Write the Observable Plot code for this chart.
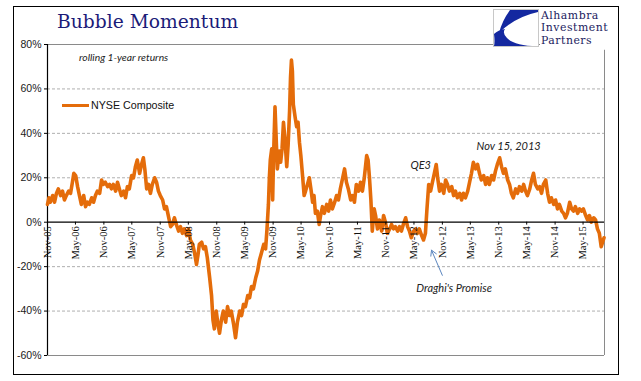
<!DOCTYPE html>
<html>
<head>
<meta charset="utf-8">
<script src="https://cdn.jsdelivr.net/npm/d3@7"></script>
<script src="https://cdn.jsdelivr.net/npm/@observablehq/plot@0.6"></script>
<style>
  html, body { margin: 0; padding: 0; background: #fff; }
  #wrap { position: relative; width: 641px; height: 381px; overflow: hidden; background: #fff; }
  #chart { position: absolute; left: 0; top: 0; }
  .abs { position: absolute; white-space: nowrap; }
</style>
</head>
<body>
<div id="wrap">
  <div id="chart"></div>
</div>
<script>
// ---- Data (months since 1 Nov 2005, rolling 1-year return in %) ----
const seriesName = "NYSE Composite";
const months = [
  0,0.3,0.6,1.1,1.5,1.9,2.3,2.8,3.2,3.6,4.0,4.5,4.9,5.3,5.6,6.0,6.4,6.8,7.2,7.7,8.1,8.5,8.9,9.4,9.8,10.2,10.6,11.1,11.5,11.9,12.3,12.8,13.2,13.6,14.0,14.5,14.9,15.3,15.7,16.2,16.6,17.0,17.4,17.9,18.3,18.7,19.1,19.6,20.0,20.4,20.7,
  21.1,21.5,21.9,22.3,22.8,23.2,23.6,24.0,24.5,24.9,25.3,25.7,26.2,26.6,27.0,27.4,27.9,28.3,28.7,29.1,29.6,30.0,30.4,30.9,31.3,31.7,32.0,32.3,32.8,33.2,33.6,34.0,34.5,34.9,35.2,35.5,35.9,36.2,36.6,37.0,37.4,37.9,38.3,38.7,39.1,39.6,40.0,40.4,40.9,41.3,41.7,42.1,42.6,43.0,43.4,43.8,44.3,44.7,45.1,45.5,46.0,46.4,
  46.7,47.0,47.2,47.4,47.7,47.9,48.1,48.4,48.7,48.9,49.3,49.6,49.9,50.2,50.5,50.9,51.2,51.5,51.7,51.9,52.1,52.3,52.7,53.0,53.3,53.6,53.9,54.3,54.6,54.9,55.3,55.7,56.1,56.4,56.7,57.0,57.4,57.8,58.1,58.5,58.9,59.4,59.8,
  60.2,60.6,61.1,61.5,61.9,62.3,62.8,63.2,63.6,64.0,64.5,64.9,65.3,65.7,66.2,66.6,67.0,67.4,67.9,68.2,68.5,68.8,69.1,69.5,69.8,70.2,70.6,71.1,71.5,71.9,72.3,72.8,73.2,73.6,74.0,74.5,74.9,75.3,75.7,76.2,76.6,77.0,77.4,77.9,78.3,78.7,79.1,79.6,80.0,80.4,
  80.7,81.1,81.5,81.9,82.3,82.7,83.0,83.4,83.8,84.3,84.7,85.1,85.5,86.0,86.4,86.8,87.2,87.7,88.1,88.5,88.9,89.4,89.8,90.2,90.6,91.1,91.5,91.9,92.3,92.8,93.2,93.6,94.0,94.5,94.9,95.3,95.7,96.2,96.6,97.0,97.4,97.9,98.3,98.7,99.1,99.6,100.0,100.4,100.9,101.3,101.7,102.1,102.6,103.0,103.4,103.8,104.3,104.7,105.1,105.5,106.0,106.4,106.8,107.2,107.7,108.1,108.5,108.9,109.4,109.8,110.2,110.6,111.1,111.5,111.9,112.3,112.8,113.2,113.6,114.0,114.5,114.9,115.3,115.7,116.2,116.6,117.0,117.4,117.8,118.1,118.4
];
const returns = [
  8,11,9,12,9,13,15,12,14,10,12,14,13,18,22,21,16,12,8,12,7,9,8,11,9,12,14,13,19,17,18,16,17,15,17,14,18,15,12,14,11,16,15,21,20,25,28,22,26,29,24,
  15,17,13,17,20,18,14,12,10,6,7,3,-2,-1,2,-1,-4,-2,-5,-3,-6,-3,-8,-10,-14,-19,-15,-10,-9,-12,-11,-16,-25,-33,-44,-48,-40,-45,-50,-44,-40,-45,-38,-42,-40,-46,-52,-45,-40,-42,-37,-38,-33,-34,-29,-30,-25,-22,-17,-14,-10,-12,
  -3,8,20,28,33,10,30,52,35,24,32,27,33,45,38,25,35,50,65,73,68,53,47,43,45,36,30,20,12,14,17,20,14,9,12,4,5,-1,3,7,4,8,5,
  10,6,9,12,10,15,20,24,18,15,10,12,9,17,14,18,14,20,30,28,20,10,-4,6,3,-3,1,-4,3,0,-5,-3,-1,-3,-2,-4,-2,-4,-1,2,-2,-4,-7,-4,-3,-5,-3,-6,-8,-5,
  5,17,14,18,22,26,20,14,17,13,19,17,14,16,12,14,11,13,10,13,11,14,18,22,27,24,26,22,19,21,17,20,17,21,19,23,26,29,25,22,24,19,17,13,11,15,13,16,14,17,14,12,15,19,22,17,15,16,13,17,19,13,9,11,8,10,6,8,5,4,2,4,9,6,5,7,4,6,5,6,3,1,3,0,2,1,-3,-5,-11,-9,-7
];
const xTickLabels = ["Nov-05","May-06","Nov-06","May-07","Nov-07","May-08","Nov-08","May-09","Nov-09","May-10",
                     "Nov-10","May-11","Nov-11","May-12","Nov-12","May-13","Nov-13","May-14","Nov-14","May-15"];
const yTicks = [80, 60, 40, 20, 0, -20, -40, -60];
const gridValues = [60, 40, 20, -20, -40];
const annLabels = ["QE3", "Nov 15, 2013", "Draghi's Promise"];
const annMonths = [79.4, 98.1, 86.5];
const annValues = [25.6, 34.2, -29.8];
const arrowFrom = {m: 84.0, v: -23.9};
const arrowTo = {m: 81.7, v: -12.6};
const domainMonths = [0, 118.5];
const logoLines = ["Alhambra", "Investment", "Partners"];

// ---- Helpers ----
const base = Date.UTC(2005, 10, 1);
const toDate = m => new Date(base + m * 30.4375 * 864e5);
const parseTick = s => new Date(Date.UTC(2000 + +s.slice(4), s.startsWith("Nov") ? 10 : 4, 1));

const data = months.map((m, i) => ({date: toDate(m), value: returns[i]}));
const ticks = xTickLabels.map(parseTick);
const anns = annLabels.map((t, i) => ({text: t, date: toDate(annMonths[i]), value: annValues[i]}));
const x0 = toDate(domainMonths[0]), x1 = toDate(domainMonths[1]);

const orange = "#E46C0A";

const chart = Plot.plot({
  width: 641, height: 381,
  marginLeft: 47, marginRight: 37, marginTop: 44, marginBottom: 26,
  style: {background: "transparent", fontFamily: "'Liberation Sans', Arial, sans-serif", color: "#1a1a1a"},
  x: {type: "utc", domain: [x0, x1], axis: null},
  y: {domain: [-60, 80], axis: null},
  marks: [
    Plot.ruleY(gridValues, {stroke: "#9a9a9a", strokeWidth: 0.8, strokeDasharray: "3,2"}),
    Plot.ruleY([80, -60], {stroke: "#8a8a8a", strokeWidth: 1}),
    Plot.ruleX([x1], {y1: -60, y2: 77.4, stroke: "#8a8a8a", strokeWidth: 1}),
    Plot.ruleX([x0], {y1: -60, y2: 80, stroke: "#000", strokeWidth: 1.2}),
    Plot.axisY(yTicks, {anchor: "left", label: null, tickSize: 3, tickPadding: 3, tickFormat: d => d + "%", fontSize: 10.5, stroke: "#000"}),
    Plot.lineY(data, {x: "date", y: "value", stroke: orange, strokeWidth: 3.6, strokeLinejoin: "round", strokeLinecap: "round"}),
    Plot.ruleY([0], {stroke: "#000", strokeWidth: 1.3}),
    Plot.ruleX(ticks, {y1: 0, y2: -1.3, stroke: "#000", strokeWidth: 1}),
    Plot.text(ticks, {x: d => d, y: 0, text: (d, i) => xTickLabels[i], rotate: -90, textAnchor: "end", dy: 4,
      fontFamily: "'Liberation Serif', 'Times New Roman', serif", fontSize: 10.5, fill: "#111"}),
    Plot.text(anns, {x: "date", y: "value", text: "text", fontStyle: "italic",
      fontFamily: "Lato, 'Open Sans', sans-serif", fontSize: 11, fill: "#222"}),
    Plot.arrow([0], {x1: () => toDate(arrowFrom.m), y1: () => arrowFrom.v, x2: () => toDate(arrowTo.m), y2: () => arrowTo.v,
      stroke: "#5B86BF", strokeWidth: 1, headLength: 9, bend: 0})
  ]
});
document.getElementById("chart").appendChild(chart);

// ---- Decorations (HTML overlays) ----
const wrap = document.getElementById("wrap");
function add(html) { wrap.insertAdjacentHTML("beforeend", html); }

// outer border
add(`<div class="abs" style="left:13px;top:6px;width:604px;height:367px;border:1.5px solid #000;"></div>`);
// title
add(`<div class="abs" style="left:57px;top:9px;font-family:'DejaVu Serif',serif;font-size:18.7px;color:#1b1b78;line-height:26px;">Bubble Momentum</div>`);
// subtitle
add(`<div class="abs" style="left:79px;top:51px;font-family:Lato,'Open Sans',sans-serif;font-style:italic;font-size:10.3px;color:#222;">rolling 1-year returns</div>`);
// legend
add(`<div class="abs" style="left:62px;top:98px;height:14px;display:flex;align-items:center;font-family:'Liberation Sans',Arial,sans-serif;font-size:10.7px;color:#111;">
  <span style="display:inline-block;width:27px;height:3px;background:${orange};margin-right:2px;"></span>${seriesName}</div>`);
// logo
add(`<div class="abs" style="left:493px;top:9px;width:46px;height:38px;background:#fff;">
  <svg width="46" height="38" viewBox="0 0 46 38">
    <rect x="0.5" y="0.5" width="45" height="37" fill="#fff" stroke="#c8c8c8"/>
    <path d="M17 1 L45 1 L45 3 Q22 8 6 24 Q9 12 17 1 Z" fill="#1428a0"/>
    <path d="M1 25 Q2 33 1 37 L44 37 Q22 37 14 29 Q9 24 12 20 Q5 21 1 25 Z" fill="#1428a0"/>
  </svg></div>`);
add(`<div class="abs" style="left:540px;top:8px;width:76px;height:40px;background:#fff;"></div>`);
logoLines.forEach((t, i) => {
  add(`<div class="abs" style="left:541px;top:${9.5 + i * 12.7}px;height:12.7px;font-family:'DejaVu Serif',serif;font-size:10.9px;letter-spacing:0.5px;line-height:12.7px;color:#1b1b60;">${t}</div>`);
});
</script>
</body>
</html>
